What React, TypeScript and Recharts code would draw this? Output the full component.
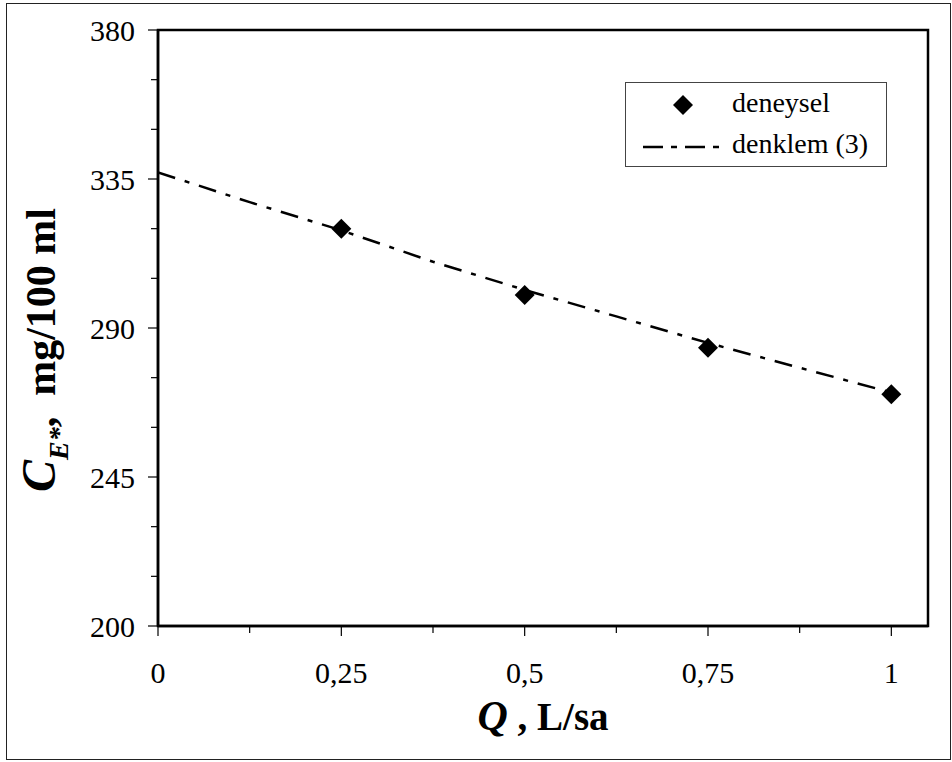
import React from 'react';
import { ComposedChart, Line, Scatter, XAxis, YAxis, ReferenceArea, Legend } from 'recharts';

// measured points (deneysel)
const pointQ = [0.25, 0.5, 0.75, 1];
const pointC = [320, 300, 284, 270];
// fitted curve (denklem (3))
const fitQ = [0, 0.125, 0.25, 0.375, 0.5, 0.625, 0.75, 0.875, 1];
const fitC = [337, 328, 319.5, 310, 301.5, 293.5, 285.5, 278, 270.5];
// axis ticks
const xTicks = [0, 0.125, 0.25, 0.375, 0.5, 0.625, 0.75, 0.875, 1];
const xMajor = [0, 0.25, 0.5, 0.75, 1];
const xLabels = ['0', '0,25', '0,5', '0,75', '1'];
const yTicks = [200, 215, 230, 245, 260, 275, 290, 305, 320, 335, 350, 365, 380];
const yMajor = [200, 245, 290, 335, 380];
const seriesNames = ['deneysel', 'denklem (3)'];

const pointData = pointQ.map((q, i) => ({ q, c: pointC[i] }));
const fitData = fitQ.map((q, i) => ({ q, c: fitC[i] }));

const FONT = "'Liberation Serif', 'Times New Roman', Times, serif";
const fs = (size: number, extra: any = {}) => ({ fontFamily: FONT, fontSize: size, ...extra });

const XTick = (props: any) => {
  const { x, y, payload } = props;
  const idx = xMajor.indexOf(payload.value);
  const major = idx >= 0;
  return (
    <g>
      <line x1={x} x2={x} y1={y} y2={y + (major ? 10 : 7)} stroke="#000" strokeWidth={1.2} />
      {major && (
        <text x={x} y={y + 57} textAnchor="middle" style={fs(30)} fill="#000">
          {xLabels[idx]}
        </text>
      )}
    </g>
  );
};

const YTick = (props: any) => {
  const { x, y, payload } = props;
  const major = yMajor.includes(payload.value);
  return (
    <g>
      <line x1={x} x2={x - (major ? 10 : 7)} y1={y} y2={y} stroke="#000" strokeWidth={1.2} />
      {major && (
        <text x={x - 23} y={y + 11} textAnchor="end" style={fs(30)} fill="#000">
          {payload.value}
        </text>
      )}
    </g>
  );
};

const Diamond = (props: any) => {
  const { cx, cy } = props;
  const h = 10;
  return <polygon points={`${cx},${cy - h} ${cx + h},${cy} ${cx},${cy + h} ${cx - h},${cy}`} fill="#000" />;
};

const LegendBox = () => (
  <svg width={262} height={85} style={{ display: 'block' }}>
    <rect x={0.5} y={0.5} width={261} height={84} fill="#fff" stroke="#444" strokeWidth={1} />
    <polygon points="58,13 68,23 58,33 48,23" fill="#000" />
    <text x={107} y={30} style={fs(28)} fill="#000">{seriesNames[0]}</text>
    <line x1={18} x2={94} y1={65} y2={65} stroke="#000" strokeWidth={2.5} strokeDasharray="20 8 6 8" />
    <text x={107} y={71} style={fs(28)} fill="#000">{seriesNames[1]}</text>
  </svg>
);

export default function App() {
  return (
    <div style={{ position: 'absolute', left: 0, top: 0, width: 952, height: 762, background: '#fff', fontFamily: FONT }}>
      <div
        style={{
          position: 'absolute',
          left: 6,
          top: 3,
          width: 943,
          height: 755,
          border: '1.5px solid #222',
        }}
      />
      <div style={{ position: 'absolute', left: 0, top: 0 }}>
        <ComposedChart width={952} height={762} margin={{ top: 30, right: 24, bottom: 0, left: 0 }}>
          <XAxis
            dataKey="q"
            type="number"
            domain={[0, 1.05]}
            ticks={xTicks}
            interval={0}
            height={136}
            tickSize={0}
            tickMargin={0}
            tickLine={false}
            axisLine={{ stroke: '#000', strokeWidth: 2.5 }}
            tick={<XTick />}
            allowDataOverflow
          />
          <YAxis
            dataKey="c"
            type="number"
            domain={[200, 380]}
            ticks={yTicks}
            interval={0}
            width={158}
            tickSize={0}
            tickMargin={0}
            tickLine={false}
            axisLine={{ stroke: '#000', strokeWidth: 2.5 }}
            tick={<YTick />}
            allowDataOverflow
          />
          <ReferenceArea x1={0} x2={1.05} y1={200} y2={380} fill="none" stroke="#000" strokeWidth={2.5} ifOverflow="visible" />
          <Line
            data={fitData}
            dataKey="c"
            type="linear"
            stroke="#000"
            strokeWidth={2.5}
            strokeDasharray="18 10 5 10"
            dot={false}
            activeDot={false}
            isAnimationActive={false}
            name={seriesNames[1]}
          />
          <Scatter data={pointData} dataKey="c" shape={<Diamond />} isAnimationActive={false} name={seriesNames[0]} />
          <Legend
            layout="horizontal"
            verticalAlign="middle"
            align="center"
            content={<LegendBox />}
            wrapperStyle={{ position: 'absolute', left: 625, top: 82, width: 262, height: 85 }}
          />
          <text x={543} y={730} textAnchor="middle" style={fs(39, { fontWeight: 'bold' })} fill="#000">
            <tspan style={{ fontStyle: 'italic', fontSize: 42 }}>Q</tspan>
            <tspan> , L/sa</tspan>
          </text>
          <text
            transform="rotate(-90)"
            x={-350}
            y={55}
            textAnchor="middle"
            style={fs(42, { fontWeight: 'bold', whiteSpace: 'pre' })}
            fill="#000"
          >
            <tspan style={{ fontStyle: 'italic', fontSize: 48 }}>C</tspan>
            <tspan style={{ fontStyle: 'italic', fontSize: 28 }} dy={13}>E*</tspan>
            <tspan dy={-13}>{',  mg/100 ml'}</tspan>
          </text>
        </ComposedChart>
      </div>
    </div>
  );
}
